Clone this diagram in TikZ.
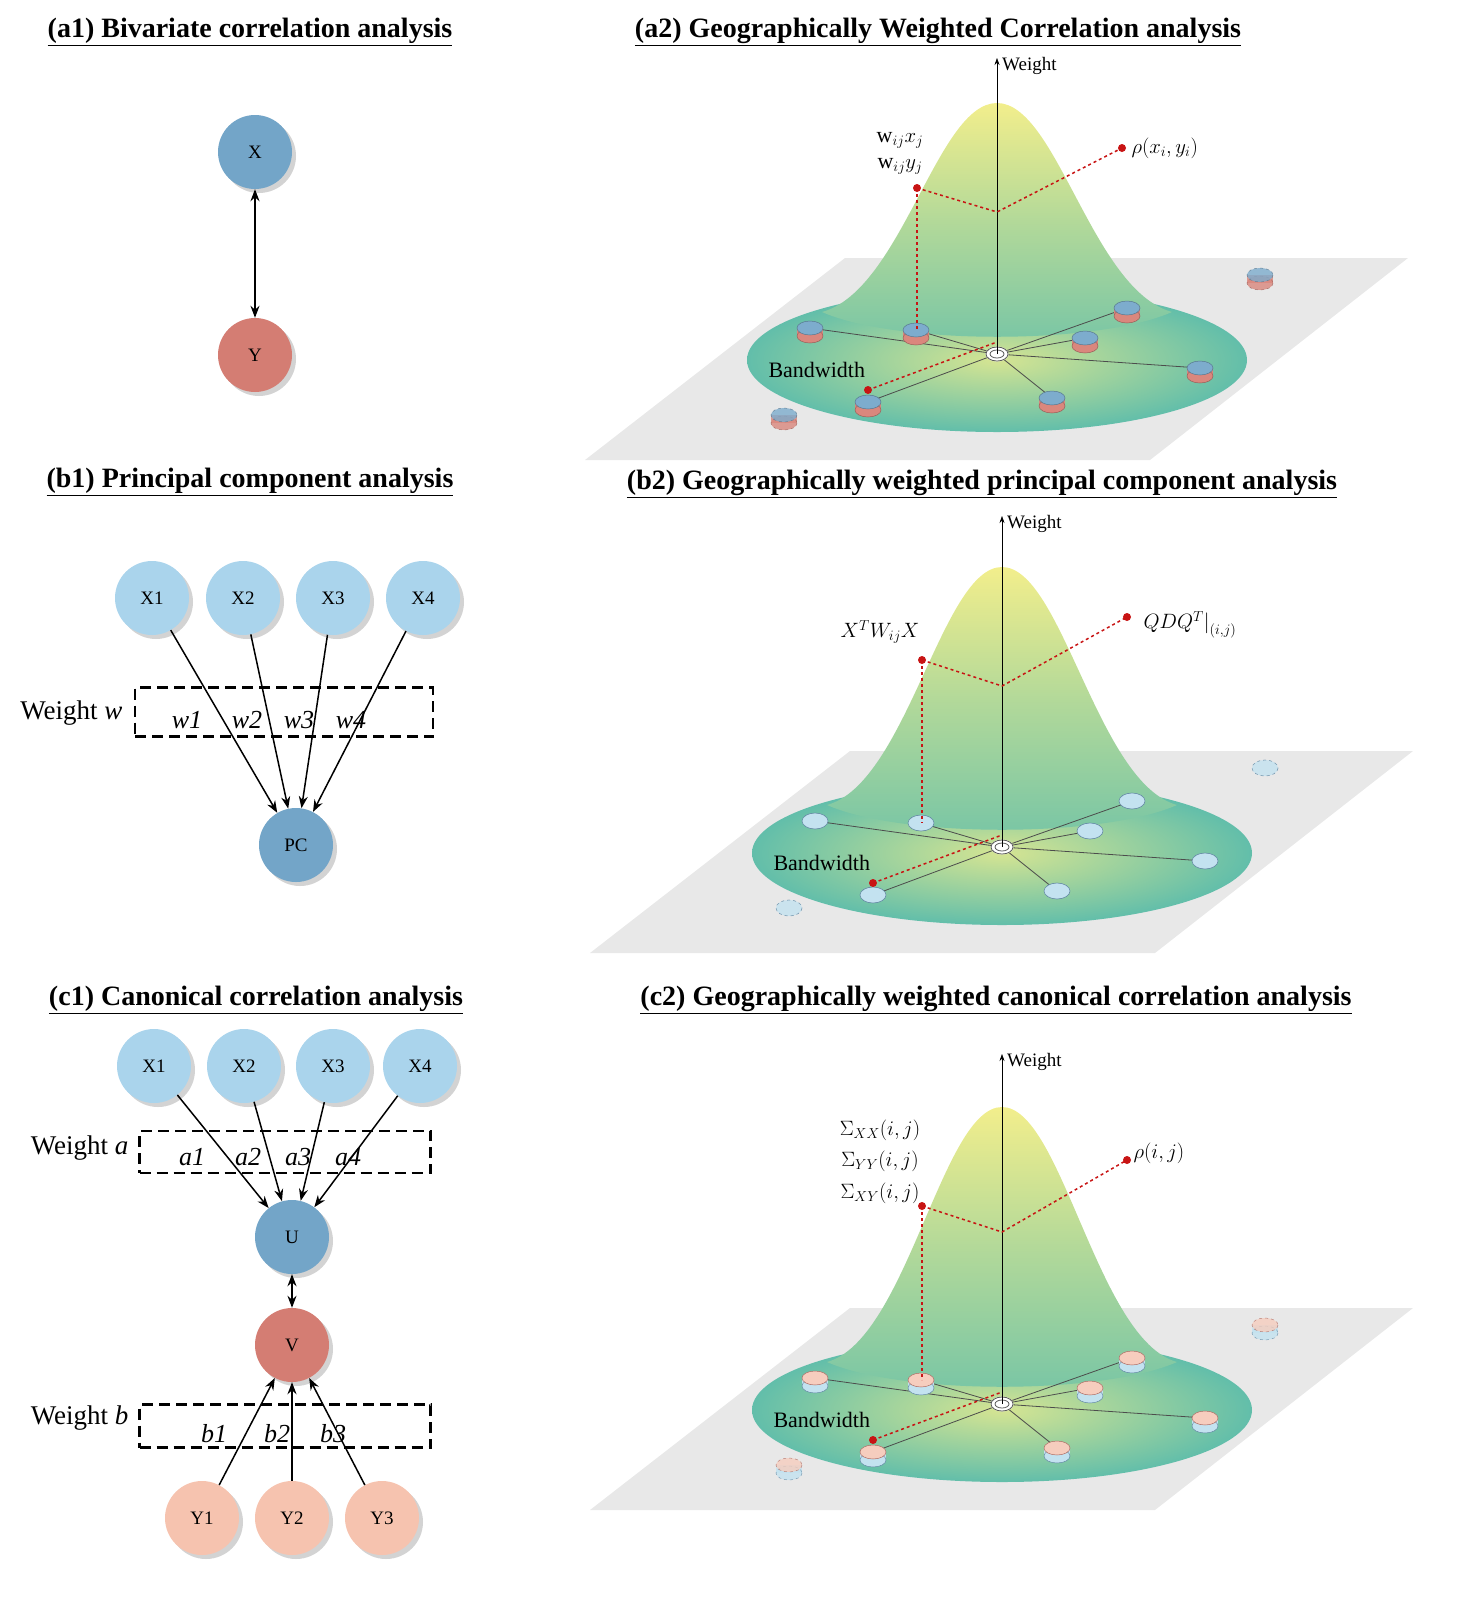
\documentclass[tikz,border=0pt]{standalone}
\usepackage{fontspec}
\setmainfont{Liberation Serif}
\usetikzlibrary{arrows.meta,shadows}
\definecolor{cblue}{RGB}{115,165,200}
\definecolor{cred}{RGB}{212,125,115}
\definecolor{clight}{RGB}{170,212,236}
\definecolor{cpeach}{RGB}{246,195,175}
\definecolor{cteal}{RGB}{98,190,170}
\definecolor{cyel}{RGB}{242,238,140}
\definecolor{cplane}{RGB}{232,232,232}
\definecolor{dblue}{RGB}{125,172,205}
\definecolor{dred}{RGB}{218,135,125}
\definecolor{dlight}{RGB}{195,226,240}
\definecolor{dpink}{RGB}{246,205,190}
\definecolor{rdot}{RGB}{200,20,20}
\tikzset{
 ttl/.style={font=\fontsize{28}{32}\selectfont\bfseries},
 var/.style={circle,minimum size=74pt,inner sep=0pt,font=\fontsize{19}{21}\selectfont,drop shadow={shadow xshift=4pt,shadow yshift=-4pt,opacity=0.35}},
 wbox/.style={draw,line width=2.4pt,dash pattern=on 11pt off 6pt},
 arr/.style={-{Stealth[length=12pt,width=9pt]},line width=1.5pt},
 darr/.style={{Stealth[length=12pt,width=9pt]}-{Stealth[length=12pt,width=9pt]},line width=1.5pt},
 wl/.style={font=\fontsize{26}{30}\selectfont\itshape},
 wtxt/.style={font=\fontsize{27}{30}\selectfont},
 red dash/.style={rdot,dashed,line width=1.5pt},
 lbl/.style={font=\fontsize{22}{26}\selectfont},
}
\newcommand\discA[2]{%
 \fill[dred] (#1-13,#2) rectangle (#1+13,#2+8);
 \fill[dred,draw=dred!70!black,line width=0.5pt] (#1,#2+8) ellipse [x radius=13,y radius=7];
 \fill[dblue,draw=dblue!70!black,line width=0.5pt] (#1,#2) ellipse [x radius=13,y radius=7];}
\newcommand\discB[2]{%
 \fill[dlight,draw=dblue!80!black,line width=0.6pt] (#1,#2) ellipse [x radius=13,y radius=8];}
\newcommand\discC[2]{%
 \fill[dlight] (#1-13,#2) rectangle (#1+13,#2+8);
 \fill[dlight,draw=dblue!80!black,line width=0.5pt] (#1,#2+8) ellipse [x radius=13,y radius=7];
 \fill[dpink,draw=dred!80!black,line width=0.5pt] (#1,#2) ellipse [x radius=13,y radius=7];}
\newcommand\gwpanel[8]{%
\begin{scope}[shift={(#1,#2)}]
 \fill[cplane] (-412,100) -- (-152,-102) -- (411,-102) -- (153,100) -- cycle;
 \shade[inner color=cyel!80!cteal,outer color=cteal] (0,0) ellipse [x radius=250,y radius=72];
 \shade[top color=cyel,bottom color=cteal!85!cyel,middle color=cyel!55!cteal]
   (-175,-48) .. controls (-95,-70) and (-60,#3) .. (0,#3) .. controls (60,#3) and (95,-70) .. (175,-48)
   .. controls (100,-15) and (-100,-15) .. (-175,-48) -- cycle;
 \foreach \px/\py in {-187/-32,-81/-30,130/-52,88/-22,203/8,55/38,-129/42}
   \draw[gray!60!black,line width=0.8pt] (0,-6) -- (\px,\py);
 \foreach \px/\py in {-187/-32,-81/-30,130/-52,88/-22,203/8,55/38,-129/42}
   {#8{\px}{\py}}
 \begin{scope}[dashed,opacity=0.8]
  #8{263}{-85} #8{-213}{55}
 \end{scope}
 \draw[white,line width=1pt,fill=white] (0,-6) ellipse [x radius=11,y radius=7];
 \draw[gray!70!black,line width=0.8pt] (0,-6) ellipse [x radius=11,y radius=7] (0,-6) ellipse [x radius=7,y radius=4];
 \draw[-{Stealth[length=7pt,width=5pt]},line width=0.6pt] (0,-6) -- (0,#4);
 \node[anchor=west,font=\fontsize{19}{21}\selectfont,inner sep=1pt] at (4,#4+8) {Weight};
 \draw[red dash] (-80,#5) -- (-80,-30);
 \draw[red dash] (-80,#5) -- (0,#6) -- (125,#7);
 \draw[red dash] (-129,30) -- (0,-18);
 \fill[rdot] (-80,#5) circle (4) (125,#7) circle (4) (-129,30) circle (4);
 \node[anchor=west,lbl] at (-232,10) {Bandwidth};
\end{scope}}
\begin{document}
\begin{tikzpicture}[x=1pt,y=-1pt]
\useasboundingbox (0,0) rectangle (1473,1599);
\node[ttl] (ta1) at (250,32) {\underline{(a1) Bivariate correlation analysis}};
\node[ttl] (ta2) at (938,32) {\underline{(a2) Geographically Weighted Correlation analysis}};
\node[ttl] (tb1) at (250,482) {\underline{(b1) Principal component analysis}};
\node[ttl] (tb2) at (982,484) {\underline{(b2) Geographically weighted principal component analysis}};
\node[ttl] (tc1) at (256,1000) {\underline{(c1) Canonical correlation analysis}};
\node[ttl] (tc2) at (996,1000) {\underline{(c2) Geographically weighted canonical correlation analysis}};
% a1
\node[var,fill=cblue] (X) at (255,152) {X};
\node[var,fill=cred] (Y) at (255,355) {Y};
\draw[darr] (X) -- (Y);
% b1
\node[wbox,minimum width=298pt,minimum height=49pt] (bw) at (284,712) {};
\node[wtxt,anchor=east] (bwl) at (126,713) {Weight \textit{w}};
\foreach \i/\x in {1/152,2/243,3/333,4/423}
  \node[var,fill=clight] (bx\i) at (\x,598) {X\i};
\node[var,fill=cblue] (PC) at (296,845) {PC};
\draw[arr] (bx1) -- (PC); \draw[arr] (bx2) -- (PC); \draw[arr] (bx3) -- (PC); \draw[arr] (bx4) -- (PC);
\foreach \i/\x in {1/187,2/247,3/299,4/351}
  \node[wl] (bwl\i) at (\x,720) {w\i};
% c1
\node[wbox,minimum width=291pt,minimum height=42pt] (ca) at (285,1152) {};
\node[wtxt,anchor=east] (cal) at (132,1148) {Weight \textit{a}};
\node[wbox,minimum width=291pt,minimum height=43pt] (cb) at (285,1426) {};
\node[wtxt,anchor=east] (cbl) at (132,1418) {Weight \textit{b}};
\foreach \i/\x in {1/154,2/244,3/333,4/420}
  \node[var,fill=clight] (cx\i) at (\x,1066) {X\i};
\node[var,fill=cblue] (U) at (292,1237) {U};
\node[var,fill=cred] (V) at (292,1345) {V};
\foreach \i/\x in {1/202,2/292,3/382}
  \node[var,fill=cpeach] (cy\i) at (\x,1518) {Y\i};
\draw[arr] (cx1) -- (U); \draw[arr] (cx2) -- (U); \draw[arr] (cx3) -- (U); \draw[arr] (cx4) -- (U);
\draw[darr] (U) -- (V);
\draw[arr] (cy1) -- (V); \draw[arr] (cy2) -- (V); \draw[arr] (cy3) -- (V);
\foreach \i/\x in {1/192,2/248,3/298,4/348}
  \node[wl] (cal\i) at (\x,1157) {a\i};
\foreach \i/\x in {1/214,2/277,3/333}
  \node[wl] (cbl\i) at (\x,1434) {b\i};
% right panels
\gwpanel{997}{360}{-257}{-302}{-172}{-148}{-212}{\discA}
\node[lbl] (la1) at (900,140) {$\mathrm{w}_{ij}x_j$};
\node[lbl] (la2) at (900,166) {$\mathrm{w}_{ij}y_j$};
\node[lbl,anchor=west] (la3) at (1128,148) {$\rho(x_i,y_i)$};
\gwpanel{1002}{853}{-286}{-337}{-193}{-167}{-236}{\discB}
\node[lbl] (lb1) at (880,632) {$X^TW_{ij}X$};
\node[lbl,anchor=west] (lb2) at (1140,625) {$QDQ^T\Big|_{(i,j)}$};
\gwpanel{1002}{1410}{-303}{-356}{-204}{-178}{-250}{\discC}
\node[lbl] (lc1) at (880,1130) {$\Sigma_{XX}(i,j)$};
\node[lbl] (lc2) at (880,1161) {$\Sigma_{YY}(i,j)$};
\node[lbl] (lc3) at (880,1193) {$\Sigma_{XY}(i,j)$};
\node[lbl,anchor=west] (lc4) at (1130,1153) {$\rho(i,j)$};
\end{tikzpicture}
\end{document}
